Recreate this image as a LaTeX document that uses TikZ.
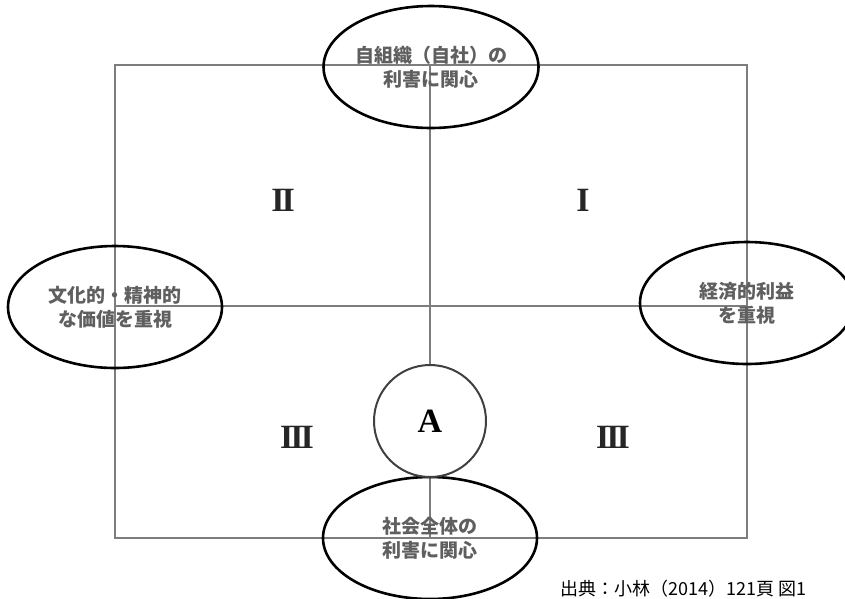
\documentclass[tikz,border=0pt]{standalone}
\usepackage{fontspec}
\setmainfont{Liberation Serif}
\newfontfamily\jpfont{Noto Sans CJK JP}
\usetikzlibrary{shapes.geometric}
\definecolor{axisgray}{RGB}{125,125,125}
\definecolor{textgray}{RGB}{95,95,95}
\tikzset{
	axis/.style={draw=axisgray, line width=1.8pt},
	view/.style={ellipse, draw=black, line width=2.6pt, minimum width=214pt, minimum height=122pt, inner sep=0pt, align=center, text=textgray, font=\jpfont\bfseries\fontsize{19}{24}\selectfont},
	quad/.style={text=black!85, font=\bfseries\fontsize{34}{34}\selectfont},
}
\newcommand{\romtwo}{I\kern-3pt I}
\newcommand{\romthree}{I\kern-3pt I\kern-3pt I}

\begin{document}
\begin{tikzpicture}[x=1pt, y=-1pt]
			%%%%% START %%%%%
			\useasboundingbox (0,0) rectangle (845,598);
			
			\coordinate (tl) at (115,65);
			\coordinate (br) at (747,538);
			\coordinate (top) at (430,65);
			\coordinate (bot) at (430,538);
			\coordinate (lft) at (115,306);
			\coordinate (rgt) at (747,306);
			
			\draw[axis] (tl) rectangle (br);
			\draw[axis] (top) -- (bot);
			\draw[axis] (lft) -- (rgt);
			
			\node[view] (self) at (431,67) {自組織（自社）の\\利害に関心};
			\node[view] (culture) at (115,307) {文化的・精神的\\な価値を重視};
			\node[view] (econ) at (747,303) {経済的利益\\を重視};
			\node[view] (society) at (430,538) {社会全体の\\利害に関心};
			
			\node[circle, draw=black!75, line width=2pt, fill=white, minimum size=112pt, inner sep=0pt, font=\bfseries\fontsize{34}{34}\selectfont] (a) at (430,421) {A};
			
			\node[quad] (q1) at (583,200) {I};
			\node[quad] (q2) at (283,200) {\romtwo};
			\node[quad] (q3l) at (297,437) {\romthree};
			\node[quad] (q3r) at (613,437) {\romthree};
			
			\node[anchor=south west, inner sep=0pt, font=\jpfont\fontsize{18}{22}\selectfont] (src) at (560,597) {出典：小林（2014）121頁 図1};
			
			%%%%% END %%%%%
\end{tikzpicture}
\end{document}
